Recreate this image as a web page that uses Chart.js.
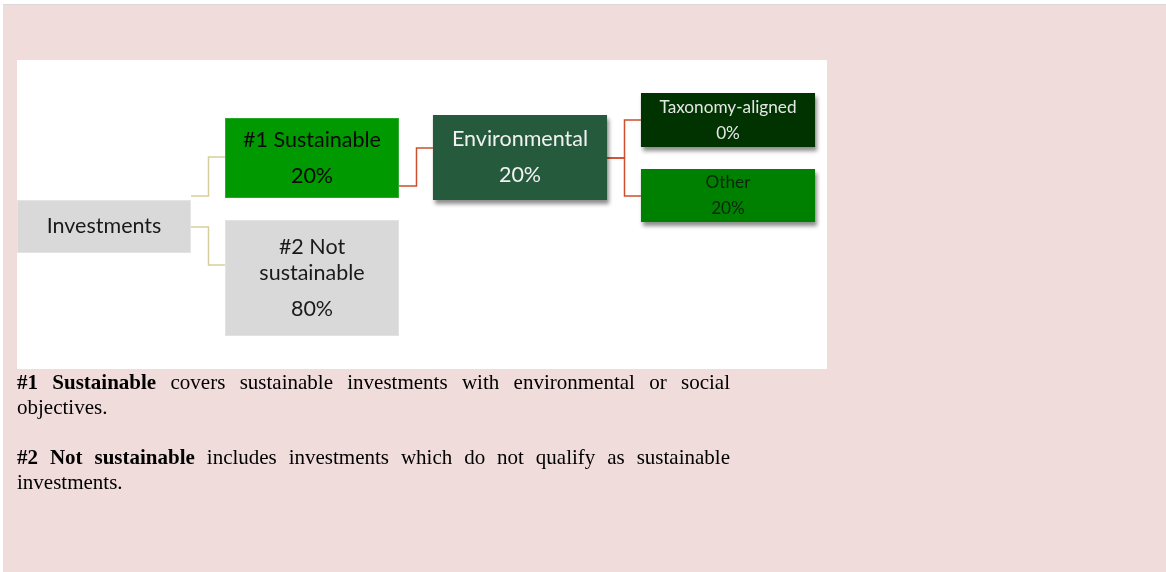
<!DOCTYPE html>
<html>
<head>
<meta charset="utf-8">
<script src="https://cdn.jsdelivr.net/npm/chart.js@4.4.1/dist/chart.umd.min.js"></script>
<style>
  body { margin: 0; background: #fff; width: 1166px; height: 572px; overflow: hidden; position: relative; }
  .frame { position: absolute; left: 3px; top: 4px; width: 1163px; height: 568px; background: #f0dcdb; border-top: 1px solid #d9d9d9; box-sizing: border-box; }
  .panel { position: absolute; left: 17px; top: 60px; width: 810px; height: 309px; background: #fff; }
  #tree { position: absolute; left: 0; top: 0; }
  .note { position: absolute; left: 17px; width: 713px; font-family: "Liberation Serif", "Times New Roman", serif; font-size: 21px; line-height: 25px; color: #000; white-space: nowrap; }
  .note.just { text-align: justify; text-align-last: justify; white-space: normal; }
</style>
</head>
<body>
<div class="frame"></div>
<div class="panel"></div>
<canvas id="tree" width="1166" height="572"></canvas>

<div class="note just" style="top:370px"><b>#1 Sustainable</b> covers sustainable investments with environmental or social</div>
<div class="note" style="top:395px">objectives.</div>
<div class="note just" style="top:445px"><b>#2 Not sustainable</b> includes investments which do not qualify as sustainable</div>
<div class="note" style="top:470px">investments.</div>

<script>
// tree data
const levels = ['Total', 'Sustainability', 'Objective', 'Taxonomy'];
const nodeNames = ['Investments', '#1 Sustainable', ['#2 Not', 'sustainable'], 'Environmental', 'Taxonomy-aligned', 'Other'];
const nodeShares = [null, 20, 80, 20, 0, 20];
const nodeParent = [null, 0, 0, 1, 3, 3];
const nodeLevel = [0, 1, 1, 2, 3, 3];

// layout only: vertical band of each box, px from the top of the white panel
const boxBand = [[140, 193], [58, 138], [160, 276], [55, 140], [33, 87], [109, 162]];
// where each connector leaves its parent and enters the child (same units)
const linkAnchor = [null, [136, 97], [167, 205], [126, 88], [98, 60], [98, 136]];

// styles
const boxFill = ['#d9d9d9', '#009900', '#d9d9d9', '#255a3d', '#003300', '#008000'];
const boxEdge = ['#e4e4e4', '#2aa82a', '#e2e2e2', '#255a3d', '#003300', '#0a8a0a'];
const textFill = ['#1a1a1a', '#0a0a0a', '#1a1a1a', '#f2f2f2', '#e6e6e6', '#0d260d'];
const hasShadow = [false, false, false, true, true, true];

const datasets = nodeNames.map((name, i) => ({
    label: [].concat(name).join(' '),
    data: levels.map((_, l) => (l === nodeLevel[i] ? boxBand[i] : null)),
    backgroundColor: boxFill[i],
    borderColor: boxEdge[i],
    // a border makes Chart.js clip the bar, which would cut the shadow off
    borderWidth: hasShadow[i] ? 0 : 1,
    borderSkipped: false,
    shadow: hasShadow[i]
}));

const boxOf = (chart, i) => chart.getDatasetMeta(i).data[nodeLevel[i]];

// drop shadow under the right-hand boxes
const shadowPlugin = {
    id: 'boxShadow',
    beforeDatasetDraw(chart, args) {
        if (!chart.data.datasets[args.index].shadow) return;
        const ctx = chart.ctx;
        ctx.save();
        ctx.shadowColor = 'rgba(0,0,0,0.45)';
        ctx.shadowOffsetX = 2;
        ctx.shadowOffsetY = 4;
        ctx.shadowBlur = 4;
    },
    afterDatasetDraw(chart, args) {
        if (chart.data.datasets[args.index].shadow) chart.ctx.restore();
    }
};

// elbow connectors between parent and child boxes
const linkPlugin = {
    id: 'links',
    beforeDatasetsDraw(chart) {
        const ctx = chart.ctx;
        const y = chart.scales.y;
        ctx.save();
        ctx.lineWidth = 1.5;
        nodeParent.forEach((p, i) => {
            if (p === null) return;
            const a = boxOf(chart, p);
            const b = boxOf(chart, i);
            const x0 = a.x + a.width / 2;
            const x1 = b.x - b.width / 2;
            const xm = Math.round((x0 + x1) / 2) + 0.5;
            const y0 = y.getPixelForValue(linkAnchor[i][0]);
            const y1 = y.getPixelForValue(linkAnchor[i][1]);
            ctx.strokeStyle = nodeLevel[p] === 0 ? '#d6cf9c' : '#cc4f2e';
            ctx.beginPath();
            ctx.moveTo(x0, y0);
            ctx.lineTo(xm, y0);
            ctx.lineTo(xm, y1);
            ctx.lineTo(x1, y1);
            ctx.stroke();
        });
        ctx.restore();
    }
};

// names and shares inside the boxes
const labelPlugin = {
    id: 'boxLabels',
    afterDatasetsDraw(chart) {
        const ctx = chart.ctx;
        ctx.save();
        ctx.textAlign = 'center';
        ctx.textBaseline = 'middle';
        nodeNames.forEach((name, i) => {
            const el = boxOf(chart, i);
            const small = nodeLevel[i] === 3;
            const lines = [].concat(name);
            const offs = lines.map((_, k) => k * 26);
            if (nodeShares[i] !== null) {
                lines.push(nodeShares[i] + '%');
                offs.push(offs[offs.length - 1] + (small ? 26 : 36));
            }
            const mid = (el.y + el.base) / 2;
            const shift = offs[offs.length - 1] / 2;
            ctx.font = (small ? '17.2px' : '21.5px') + ' Lato, "Open Sans", sans-serif';
            ctx.fillStyle = textFill[i];
            lines.forEach((t, k) => ctx.fillText(t, el.x, mid - shift + offs[k]));
        });
        ctx.restore();
    }
};

const ctx = document.getElementById('tree').getContext('2d');
new Chart(ctx, {
    type: 'bar',
    data: { labels: levels, datasets: datasets },
    options: {
        responsive: false,
        animation: false,
        layout: { padding: { left: 0, right: 334, top: 60, bottom: 203 } },
        datasets: { bar: { grouped: false, categoryPercentage: 1, barPercentage: 0.837 } },
        scales: {
            x: { type: 'category', display: false, offset: true },
            y: { type: 'linear', display: false, reverse: true, min: 0, max: 309 }
        },
        plugins: {
            legend: { display: false },
            tooltip: { enabled: false }
        }
    },
    plugins: [shadowPlugin, linkPlugin, labelPlugin]
});
</script>
</body>
</html>
